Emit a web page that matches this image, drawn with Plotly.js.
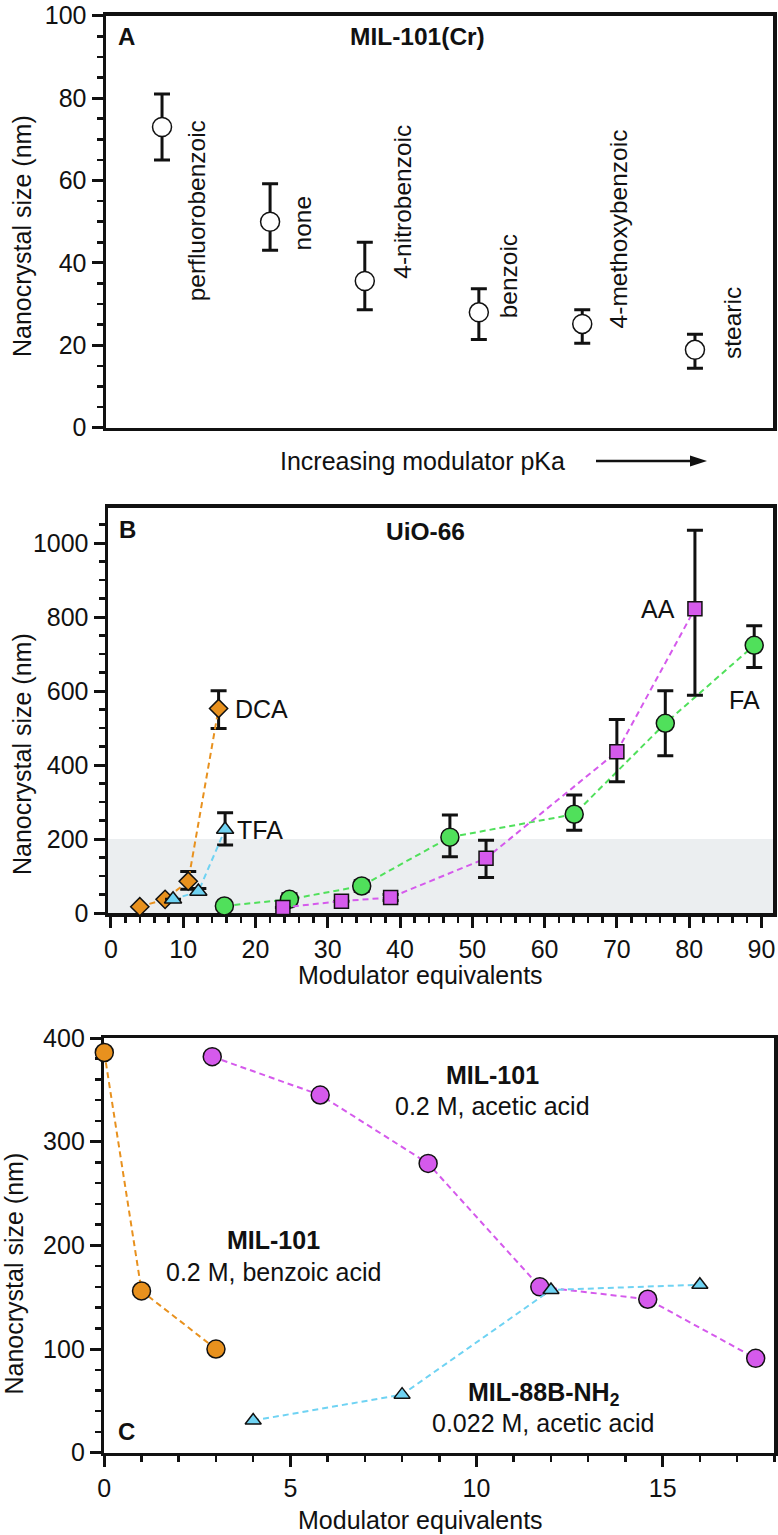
<!DOCTYPE html>
<html><head><meta charset="utf-8">
<script src="https://cdn.plot.ly/plotly-3.0.1.min.js"></script>
<style>html,body{margin:0;padding:0;background:#fff}#chart{width:778px;height:1535px}</style>
</head><body><div id="chart"></div>
<script>
// ---------- Panel A : MIL-101(Cr) ----------
const aModulators = ['perfluorobenzoic','none','4-nitrobenzoic','benzoic','4-methoxybenzoic','stearic'];
const aPos       = [8.4, 24.6, 38.8, 55.9, 71.4, 88.3];      // order of increasing modulator pKa
const aSize      = [73, 50, 35.6, 28, 25.2, 18.9];
const aErrPlus   = [8, 9.2, 9.4, 5.7, 3.4, 3.8];
const aErrMinus  = [8, 6.9, 7, 6.6, 4.7, 4.5];
const aLabelX    = [13.6, 29.4, 44.4, 60.4, 76.8, 93.9];
const aLabelY    = [52.7, 49.6, 54.9, 36.7, 48.2, 25.5];

// ---------- Panel B : UiO-66 ----------
const dcaX = [4, 7.5, 10.7, 14.9];
const dcaY = [17, 37, 86, 553];
const dcaErrPlus  = [0, 0, 26, 48];
const dcaErrMinus = [0, 0, 22, 54];

const tfaX = [8.6, 12.1, 15.8];
const tfaY = [37, 58, 226];
const tfaErrPlus  = [0, 8, 45];
const tfaErrMinus = [0, 8, 42];

const faX = [15.7, 24.7, 34.7, 46.9, 64.1, 76.7, 89];
const faY = [19, 37, 73, 205, 267, 513, 724];
const faErrPlus  = [0, 15, 14, 60, 52, 88, 53];
const faErrMinus = [0, 15, 14, 53, 43, 88, 60];

const aaX = [23.8, 31.9, 38.7, 51.9, 70, 80.8];
const aaY = [15, 32, 42, 148, 436, 823];
const aaErrPlus  = [0, 0, 8, 49, 87, 212];
const aaErrMinus = [0, 0, 8, 52, 81, 234];

// ---------- Panel C ----------
const benzX = [0, 1, 3];
const benzY = [386, 156, 100];
const aceX  = [2.9, 5.8, 8.7, 11.7, 14.6, 17.5];
const aceY  = [382, 345, 279, 160, 148, 91];
const m88X  = [4, 8, 12, 16];
const m88Y  = [31, 56, 157, 162];

// ---------- styling ----------
const W = 778, H = 1535;
const px = x => x / W, py = y => 1 - y / H;
const FONT = 'Liberation Sans, Arial, Helvetica, sans-serif';
const ORANGE = '#E8911E', CYAN = '#6FD3F3', GREEN = '#50E05B', MAGENTA = '#D55AEC';
const DASH = '6px,4px';

function errY(plus, minus) {
  return {type: 'data', symmetric: false, array: plus, arrayminus: minus,
          color: '#111', thickness: 3, width: 8};
}
function series(x, y, xa, ya, color, symbol, size, err) {
  const t = {x: x, y: y, xaxis: xa, yaxis: ya, type: 'scatter', mode: 'lines+markers',
    cliponaxis: false,
    line: {color: color, width: 2, dash: DASH},
    marker: {color: color, symbol: symbol, size: size, line: {color: '#111', width: 1.5}},
    hoverinfo: 'skip'};
  if (err) t.error_y = err;
  return t;
}

const traces = [
  {x: aPos, y: aSize, xaxis: 'x', yaxis: 'y', type: 'scatter', mode: 'markers',
   cliponaxis: false, hoverinfo: 'skip',
   marker: {color: '#fff', symbol: 'circle', size: 19, line: {color: '#111', width: 1.5}},
   error_y: errY(aErrPlus, aErrMinus)},
  series(dcaX, dcaY, 'x2', 'y2', ORANGE, 'diamond', 14, errY(dcaErrPlus, dcaErrMinus)),
  series(tfaX, tfaY, 'x2', 'y2', CYAN, 'triangle-up', 15, errY(tfaErrPlus, tfaErrMinus)),
  series(faX, faY, 'x2', 'y2', GREEN, 'circle', 18, errY(faErrPlus, faErrMinus)),
  series(aaX, aaY, 'x2', 'y2', MAGENTA, 'square', 14, errY(aaErrPlus, aaErrMinus)),
  series(benzX, benzY, 'x3', 'y3', ORANGE, 'circle', 18),
  series(aceX, aceY, 'x3', 'y3', MAGENTA, 'circle', 18),
  series(m88X, m88Y, 'x3', 'y3', CYAN, 'triangle-up', 14)
];

const tickFont = {family: FONT, size: 25, color: '#111'};
function ax(domain, range, dtick, mdtick, anchor) {
  return {domain: domain, range: range, anchor: anchor, dtick: dtick, tick0: 0,
    ticks: 'outside', ticklen: 11, tickwidth: 3, tickcolor: '#111',
    minor: {dtick: mdtick, tick0: 0, ticks: 'outside', ticklen: 6, tickwidth: 2.5, tickcolor: '#111', showgrid: false},
    showline: true, mirror: true, linewidth: 3.5, linecolor: '#111',
    showgrid: false, zeroline: false, tickfont: tickFont, fixedrange: true, layer: 'below traces'};
}

const layout = {
  width: W, height: H, margin: {l: 0, r: 0, t: 0, b: 0},
  paper_bgcolor: '#fff', plot_bgcolor: 'rgba(0,0,0,0)', showlegend: false,
  font: {family: FONT, size: 25, color: '#111'},
  xaxis: {domain: [px(106), px(773)], range: [0, 100], anchor: 'y', showticklabels: false, ticks: '',
          showline: true, mirror: true, linewidth: 3.5, linecolor: '#111', showgrid: false, zeroline: false, fixedrange: true},
  yaxis: ax([py(427.7), py(15.7)], [0, 100], 20, 5, 'x'),
  xaxis2: ax([px(108), px(773)], [-0.4, 91.6], 10, 2, 'y2'),
  yaxis2: ax([py(913), py(507.7)], [0, 1096], 200, 50, 'x2'),
  xaxis3: ax([px(104.3), px(774.3)], [0, 18], 5, 1, 'y3'),
  yaxis3: ax([py(1452.7), py(1038)], [0, 400], 100, 20, 'x3'),
  shapes: [
    {type: 'rect', xref: 'x2 domain', yref: 'y2', x0: 0, x1: 1, y0: 0, y1: 200,
     fillcolor: '#EBEEF0', line: {width: 0}, layer: 'below'},
    {type: 'line', xref: 'paper', yref: 'paper', x0: px(596), x1: px(694), y0: py(461), y1: py(461),
     line: {color: '#111', width: 2.5}},
    {type: 'path', xref: 'paper', yref: 'paper',
     path: 'M ' + px(690) + ' ' + py(455.5) + ' L ' + px(707) + ' ' + py(461) + ' L ' + px(690) + ' ' + py(466.5) + ' Z',
     fillcolor: '#111', line: {color: '#111', width: 0}}
  ],
  annotations: []
};

function ann(text, x, y, opts) {
  return Object.assign({text: text, xref: 'paper', yref: 'paper', x: px(x), y: py(y),
    xanchor: 'center', yanchor: 'middle', showarrow: false,
    font: {family: FONT, size: 25, color: '#111'}}, opts || {});
}

// Panel A rotated modulator labels (data coords)
aModulators.forEach((m, i) => {
  layout.annotations.push({text: m, xref: 'x', yref: 'y', x: aLabelX[i], y: aLabelY[i],
    textangle: -90, xanchor: 'center', yanchor: 'middle', showarrow: false,
    font: {family: FONT, size: 24.5, color: '#111'}});
});

layout.annotations.push(
  ann('<b>A</b>', 126.7, 36.7, {font: {family: FONT, size: 24, color: '#111'}}),
  ann('<b>MIL-101(Cr)</b>', 417, 36.5, {font: {family: FONT, size: 24.5, color: '#111'}}),
  ann('Nanocrystal size (nm)', 22, 236, {textangle: -90}),
  ann('Increasing modulator pKa', 422.5, 461),

  ann('<b>B</b>', 127.7, 530, {font: {family: FONT, size: 24, color: '#111'}}),
  ann('<b>UiO-66</b>', 425, 531, {font: {family: FONT, size: 24.5, color: '#111'}}),
  ann('Nanocrystal size (nm)', 22, 754, {textangle: -90}),
  ann('Modulator equivalents', 421, 975),
  ann('DCA', 261.5, 709),
  ann('TFA', 260, 830),
  ann('AA', 657.5, 608.5),
  ann('FA', 744, 700),

  ann('<b>C</b>', 126.7, 1431.7, {font: {family: FONT, size: 24, color: '#111'}}),
  ann('Nanocrystal size (nm)', 13.5, 1274, {textangle: -90}),
  ann('Modulator equivalents', 421, 1520),
  ann('<b>MIL-101</b>', 492, 1074.6),
  ann('0.2 M, acetic acid', 492, 1106),
  ann('<b>MIL-101</b>', 273.5, 1240),
  ann('0.2 M, benzoic acid', 273.8, 1271.7),
  ann('<b>MIL-88B-NH<sub>2</sub></b>', 544, 1394),
  ann('0.022 M, acetic acid', 542.5, 1423.3)
);

Plotly.newPlot('chart', traces, layout, {staticPlot: true, displayModeBar: false});
</script>
</body></html>
